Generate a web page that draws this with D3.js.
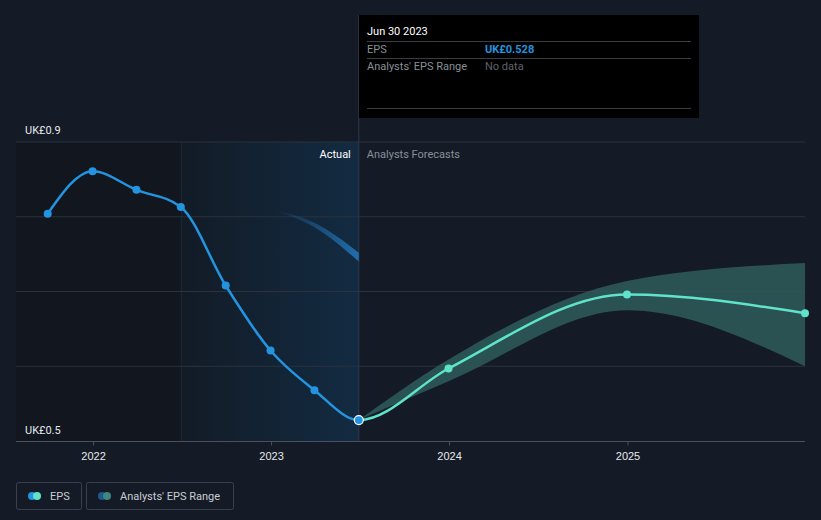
<!DOCTYPE html>
<html><head><meta charset="utf-8">
<script src="https://cdn.jsdelivr.net/npm/d3@7"></script>
<style>
html,body{margin:0;padding:0;background:#151b26;}
svg{display:block;font-family:Roboto,"Open Sans",sans-serif;}
</style></head>
<body><svg id="c" width="821" height="520"></svg>
<script>
const actualDates = ["2021-09-30","2021-12-31","2022-03-31","2022-06-30","2022-09-30","2022-12-31","2023-03-31","2023-06-30"];
const actualEps = [0.804,0.861,0.836,0.813,0.708,0.621,0.568,0.528];
const forecastDates = ["2023-06-30","2023-12-31","2024-12-31","2025-12-31"];
const forecastEps = [0.528,0.597,0.696,0.671];
const rangeLow = [0.528,0.580,0.675,0.600];
const rangeHigh = [0.528,0.609,0.714,0.738];
const pastRangeDates = ["2023-01-08","2023-03-31","2023-06-30"];
const pastRangeLow = [0.808,0.786,0.740];
const pastRangeHigh = [0.809,0.792,0.752];
const yTickLabels = ["UK£0.5","UK£0.9"];
const xTickYears = ["2022","2023","2024","2025"];

const parse = d3.timeParse("%Y-%m-%d");
const svg = d3.select("#c");
const x = d3.scaleTime().domain([parse("2021-07-27"), parse("2025-12-31")]).range([16, 805]);
const y = d3.scaleLinear().domain([0.5, 0.9]).range([441, 142]);
const lastActual = parse("2023-06-30");
const splitDate = parse("2022-06-30");
const xs = x(lastActual);

const defs = svg.append("defs");
const g1 = defs.append("linearGradient").attr("id","actGrad").attr("x1","0").attr("x2","1").attr("y1","0").attr("y2","0");
g1.append("stop").attr("offset","0").attr("stop-color","#121b26");
g1.append("stop").attr("offset","1").attr("stop-color","#132b42");
const g2 = defs.append("linearGradient").attr("id","pastGrad").attr("x1","0").attr("x2","1").attr("y1","0").attr("y2","0");
g2.append("stop").attr("offset","0").attr("stop-color","#2379c0").attr("stop-opacity",0);
g2.append("stop").attr("offset","1").attr("stop-color","#2379c0").attr("stop-opacity",0.85);
defs.append("clipPath").attr("id","clipL").append("rect").attr("x",0).attr("y",0).attr("width",xs).attr("height",520);
defs.append("clipPath").attr("id","clipR").append("rect").attr("x",xs).attr("y",0).attr("width",821-xs).attr("height",520);

// background regions
svg.append("rect").attr("x", x.range()[0]).attr("y", y(0.9)).attr("width", x(splitDate)-x.range()[0]).attr("height", y(0.5)-y(0.9)).attr("fill","#11161f");
svg.append("rect").attr("x", x(splitDate)).attr("y", y(0.9)).attr("width", xs-x(splitDate)).attr("height", y(0.5)-y(0.9)).attr("fill","url(#actGrad)");
svg.append("line").attr("x1",x(splitDate)+0.5).attr("x2",x(splitDate)+0.5).attr("y1",y(0.9)).attr("y2",y(0.5)).attr("stroke","#1c2836");

// gridlines
[0.6,0.7,0.8,0.9].forEach(v=>{
  svg.append("line").attr("x1",16).attr("x2",805).attr("y1",y(v)).attr("y2",y(v)).attr("stroke","#2b323e").attr("stroke-width",1);
});

// tooltip vertical line
svg.append("line").attr("x1",xs).attr("x2",xs).attr("y1",15).attr("y2",y(0.5)).attr("stroke","#2c3a4c").attr("stroke-width",1);

// past range band
const pastArea = d3.area().x((d,i)=>x(parse(pastRangeDates[i]))).y0((d,i)=>y(pastRangeLow[i])).y1((d,i)=>y(pastRangeHigh[i])).curve(d3.curveMonotoneX);
svg.append("path").datum(pastRangeDates).attr("d",pastArea).attr("fill","url(#pastGrad)");

// forecast range band
const area = d3.area().x((d,i)=>x(parse(forecastDates[i]))).y0((d,i)=>y(rangeLow[i])).y1((d,i)=>y(rangeHigh[i])).curve(d3.curveMonotoneX);
svg.append("path").datum(forecastDates).attr("d",area).attr("fill","#2e5c5b").attr("fill-opacity",0.85);

// axis line
svg.append("line").attr("x1",16).attr("x2",805).attr("y1",y(0.5)+0.5).attr("y2",y(0.5)+0.5).attr("stroke","#4a515c").attr("stroke-width",1);

// x axis ticks
const xAxis = d3.axisBottom(x).tickValues(xTickYears.map(s=>parse(s+"-01-01"))).tickFormat(d3.timeFormat("%Y")).tickSize(4).tickSizeOuter(0);
const ax = svg.append("g").attr("transform",`translate(0,${y(0.5)+0.5})`).call(xAxis);
ax.select(".domain").remove();
ax.selectAll(".tick line").attr("stroke","#4a515c");
ax.selectAll(".tick text").attr("fill","#e6e8eb").attr("font-size",11).attr("dy","1.05em");

// y labels
svg.append("text").attr("x",25).attr("y",y(0.9)-8).attr("fill","#e6e8eb").attr("font-size",11).text(yTickLabels[1]);
svg.append("text").attr("x",25).attr("y",y(0.5)-7).attr("fill","#e6e8eb").attr("font-size",11).text(yTickLabels[0]);

// lines: one continuous curve, split at the last actual date
const line = d3.line().curve(d3.curveMonotoneX);
const actPts = actualDates.map((d,i)=>[x(parse(d)), y(actualEps[i])]);
const fcPts = forecastDates.map((d,i)=>[x(parse(d)), y(forecastEps[i])]);
const allPts = actPts.concat(fcPts.slice(1));
svg.append("path").attr("d",line(allPts)).attr("fill","none").attr("stroke","#5fe3cb").attr("stroke-width",2.5).attr("clip-path","url(#clipR)");
svg.append("path").attr("d",line(allPts)).attr("fill","none").attr("stroke","#2394df").attr("stroke-width",2.5).attr("clip-path","url(#clipL)");

fcPts.slice(1).forEach(p=>svg.append("circle").attr("cx",p[0]).attr("cy",p[1]).attr("r",4).attr("fill","#5fe3cb"));
actPts.slice(0,-1).forEach(p=>svg.append("circle").attr("cx",p[0]).attr("cy",p[1]).attr("r",4).attr("fill","#2394df"));
const lp = actPts[actPts.length-1];
svg.append("circle").attr("cx",lp[0]).attr("cy",lp[1]).attr("r",4.5).attr("fill","#2394df").attr("stroke","#ffffff").attr("stroke-width",1.2);

// labels Actual / Analysts Forecasts
svg.append("text").attr("x",xs-8).attr("y",158).attr("text-anchor","end").attr("fill","#ffffff").attr("font-size",11).text("Actual");
svg.append("text").attr("x",xs+8).attr("y",158).attr("fill","#8a8f96").attr("font-size",11).text("Analysts Forecasts");

// tooltip
const tt = svg.append("g");
tt.append("rect").attr("x",359).attr("y",15).attr("width",340).attr("height",103).attr("fill","#000000");
tt.append("text").attr("x",367).attr("y",35).attr("fill","#ffffff").attr("font-size",11).text("Jun 30 2023");
[41,58,108].forEach(yy=>tt.append("line").attr("x1",367).attr("x2",691).attr("y1",yy+0.5).attr("y2",yy+0.5).attr("stroke","#3a3d42"));
tt.append("text").attr("x",367).attr("y",53).attr("fill","#8a8f96").attr("font-size",11).text("EPS");
tt.append("text").attr("x",485).attr("y",53).attr("fill","#2394df").attr("font-size",11).attr("font-weight","bold").text("UK£" + actualEps[actualEps.length-1].toFixed(3));
tt.append("text").attr("x",367).attr("y",70).attr("fill","#8a8f96").attr("font-size",11).text("Analysts' EPS Range");
tt.append("text").attr("x",485).attr("y",70).attr("fill","#5f6369").attr("font-size",11).text("No data");

// legend
const lg = svg.append("g");
lg.append("rect").attr("x",16.5).attr("y",482.5).attr("width",65).attr("height",27).attr("rx",2).attr("fill","none").attr("stroke","#3a414c");
lg.append("circle").attr("cx",32).attr("cy",496).attr("r",4).attr("fill","#2394df");
lg.append("circle").attr("cx",37).attr("cy",496).attr("r",4).attr("fill","#5fe3cb");
lg.append("text").attr("x",50).attr("y",500).attr("fill","#c9ccd1").attr("font-size",11).text("EPS");
lg.append("rect").attr("x",86.5).attr("y",482.5).attr("width",147).attr("height",27).attr("rx",2).attr("fill","none").attr("stroke","#3a414c");
lg.append("circle").attr("cx",102).attr("cy",496).attr("r",4).attr("fill","#1d5b8a");
lg.append("circle").attr("cx",107).attr("cy",496).attr("r",4).attr("fill","#3f8580");
lg.append("text").attr("x",120).attr("y",500).attr("fill","#c9ccd1").attr("font-size",11).text("Analysts' EPS Range");
</script></body></html>
